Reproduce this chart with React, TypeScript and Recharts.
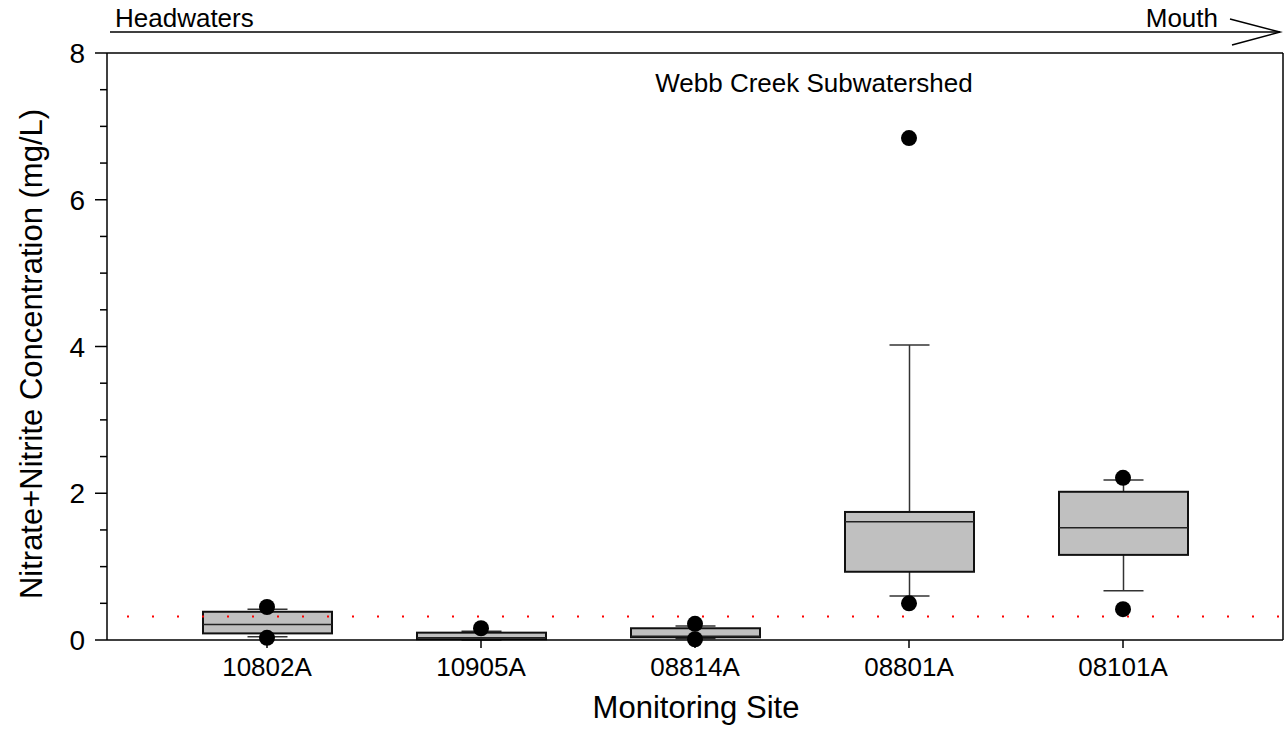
import {
  Bar,
  ComposedChart,
  ReferenceLine,
  Scatter,
  XAxis,
  YAxis,
} from "recharts";

// monitoring sites, headwaters -> mouth
const sites = ["10802A", "10905A", "08814A", "08801A", "08101A"];

// box plot statistics per site (mg/L)
const whiskerLow = [0.045, 0.0, 0.02, 0.6, 0.67];
const quartile1 = [0.09, 0.01, 0.037, 0.93, 1.16];
const medians = [0.21, 0.03, 0.05, 1.61, 1.53];
const quartile3 = [0.385, 0.1, 0.16, 1.745, 2.02];
const whiskerHigh = [0.42, 0.12, 0.19, 4.02, 2.18];

// 5th / 95th percentile points
const lowPoints: (number | null)[] = [0.03, null, 0.01, 0.5, 0.42];
const highPoints: (number | null)[] = [0.45, 0.16, 0.22, 6.84, 2.21];

const yTicks = [0, 0.5, 1, 1.5, 2, 2.5, 3, 3.5, 4, 4.5, 5, 5.5, 6, 6.5, 7, 7.5, 8];
const yMax = 8;
const criterion = 0.32;

const data = sites.map((site, i) => ({
  site,
  lo: whiskerLow[i],
  q1: quartile1[i],
  median: medians[i],
  q3: quartile3[i],
  hi: whiskerHigh[i],
  p05: lowPoints[i],
  p95: highPoints[i],
}));

const FONT = '"Liberation Sans", Arial, sans-serif';

// draws whiskers, caps, box and median from the q1..q3 bar geometry
function BoxShape(props: any) {
  const { x, y, width, height, payload } = props;
  const { lo, q1, median, q3, hi } = payload;
  const toY = (v: number) => y + (height * (q3 - v)) / (q3 - q1);
  const cx = x + width / 2;
  const cap = 20;
  const whisker = { stroke: "#333", strokeWidth: 1.5 };
  return (
    <g>
      <line x1={cx} x2={cx} y1={toY(hi)} y2={y} {...whisker} />
      <line x1={cx - cap} x2={cx + cap} y1={toY(hi)} y2={toY(hi)} {...whisker} />
      <line x1={cx} x2={cx} y1={y + height} y2={toY(lo)} {...whisker} />
      <line x1={cx - cap} x2={cx + cap} y1={toY(lo)} y2={toY(lo)} {...whisker} />
      <rect
        x={x}
        y={y}
        width={width}
        height={height}
        fill="#c0c0c0"
        stroke="#111"
        strokeWidth={2}
      />
      <line
        x1={x}
        x2={x + width}
        y1={toY(median)}
        y2={toY(median)}
        stroke="#222"
        strokeWidth={1.5}
      />
    </g>
  );
}

const dotShape = (key: "p05" | "p95") => (props: any) => {
  if (props.payload[key] == null) return <g />;
  return <circle cx={props.cx} cy={props.cy} r={8} fill="#000" />;
};

function YTick(props: any) {
  const { x, y, payload } = props;
  const major = payload.value % 2 === 0;
  return (
    <g>
      <line
        x1={x - (major ? 12 : 7)}
        x2={x}
        y1={y}
        y2={y}
        stroke="#000"
        strokeWidth={1.5}
      />
      {major && (
        <text
          x={x - 22}
          y={y}
          dy={10}
          textAnchor="end"
          fontSize={28}
          fontFamily={FONT}
          fill="#000"
        >
          {payload.value}
        </text>
      )}
    </g>
  );
}

const frameLine = { stroke: "#000", strokeWidth: 1.5 };

export default function App() {
  return (
    <div
      style={{
        position: "absolute",
        left: 0,
        top: 0,
        width: 1287,
        height: 729,
        background: "#fff",
      }}
    >
      <ComposedChart
        width={1287}
        height={729}
        data={data}
        margin={{ top: 53, right: 3, bottom: 0, left: 0 }}
      >
        <XAxis
          dataKey="site"
          height={89}
          padding={{ left: 53, right: 53 }}
          tickSize={8}
          tickMargin={10}
          axisLine={frameLine}
          tickLine={frameLine}
          tick={{ fill: "#000", fontSize: 26, fontFamily: FONT }}
        />
        <YAxis
          width={107}
          domain={[0, yMax]}
          ticks={yTicks}
          interval={0}
          tickSize={0}
          tickMargin={0}
          axisLine={frameLine}
          tick={<YTick />}
        />
        {/* right edge of the frame */}
        <YAxis
          yAxisId="right"
          orientation="right"
          width={1}
          domain={[0, yMax]}
          axisLine={frameLine}
          tickLine={false}
          tick={false}
        />
        {/* top edge of the frame */}
        <ReferenceLine y={yMax} stroke="#000" strokeWidth={1.5} />
        <ReferenceLine
          y={criterion}
          stroke="#ff0000"
          strokeWidth={2}
          strokeDasharray="2 23"
          strokeDashoffset={5}
        />
        <Bar
          dataKey={(d: any) => [d.q1, d.q3]}
          barSize={129}
          shape={<BoxShape />}
          isAnimationActive={false}
        />
        <Scatter
          dataKey="p95"
          shape={dotShape("p95")}
          isAnimationActive={false}
        />
        <Scatter
          dataKey="p05"
          shape={dotShape("p05")}
          isAnimationActive={false}
        />
      </ComposedChart>

      <svg
        width={1287}
        height={729}
        style={{ position: "absolute", left: 0, top: 0, pointerEvents: "none" }}
        fontFamily={FONT}
      >
        <text x={115} y={27} fontSize={26} fill="#000">
          Headwaters
        </text>
        <text x={1218} y={27} fontSize={26} fill="#000" textAnchor="end">
          Mouth
        </text>
        <line x1={110} x2={1280} y1={32} y2={32} stroke="#000" strokeWidth={1.5} />
        <polyline
          points="1230,19 1280,32 1232,45"
          fill="none"
          stroke="#000"
          strokeWidth={1.5}
        />
        <text x={814} y={92} fontSize={26} fill="#000" textAnchor="middle">
          Webb Creek Subwatershed
        </text>
        <text x={696} y={718} fontSize={31} fill="#000" textAnchor="middle">
          Monitoring Site
        </text>
        <text
          transform="translate(42,354) rotate(-90)"
          fontSize={31}
          fill="#000"
          textAnchor="middle"
        >
          Nitrate+Nitrite Concentration (mg/L)
        </text>
      </svg>
    </div>
  );
}
